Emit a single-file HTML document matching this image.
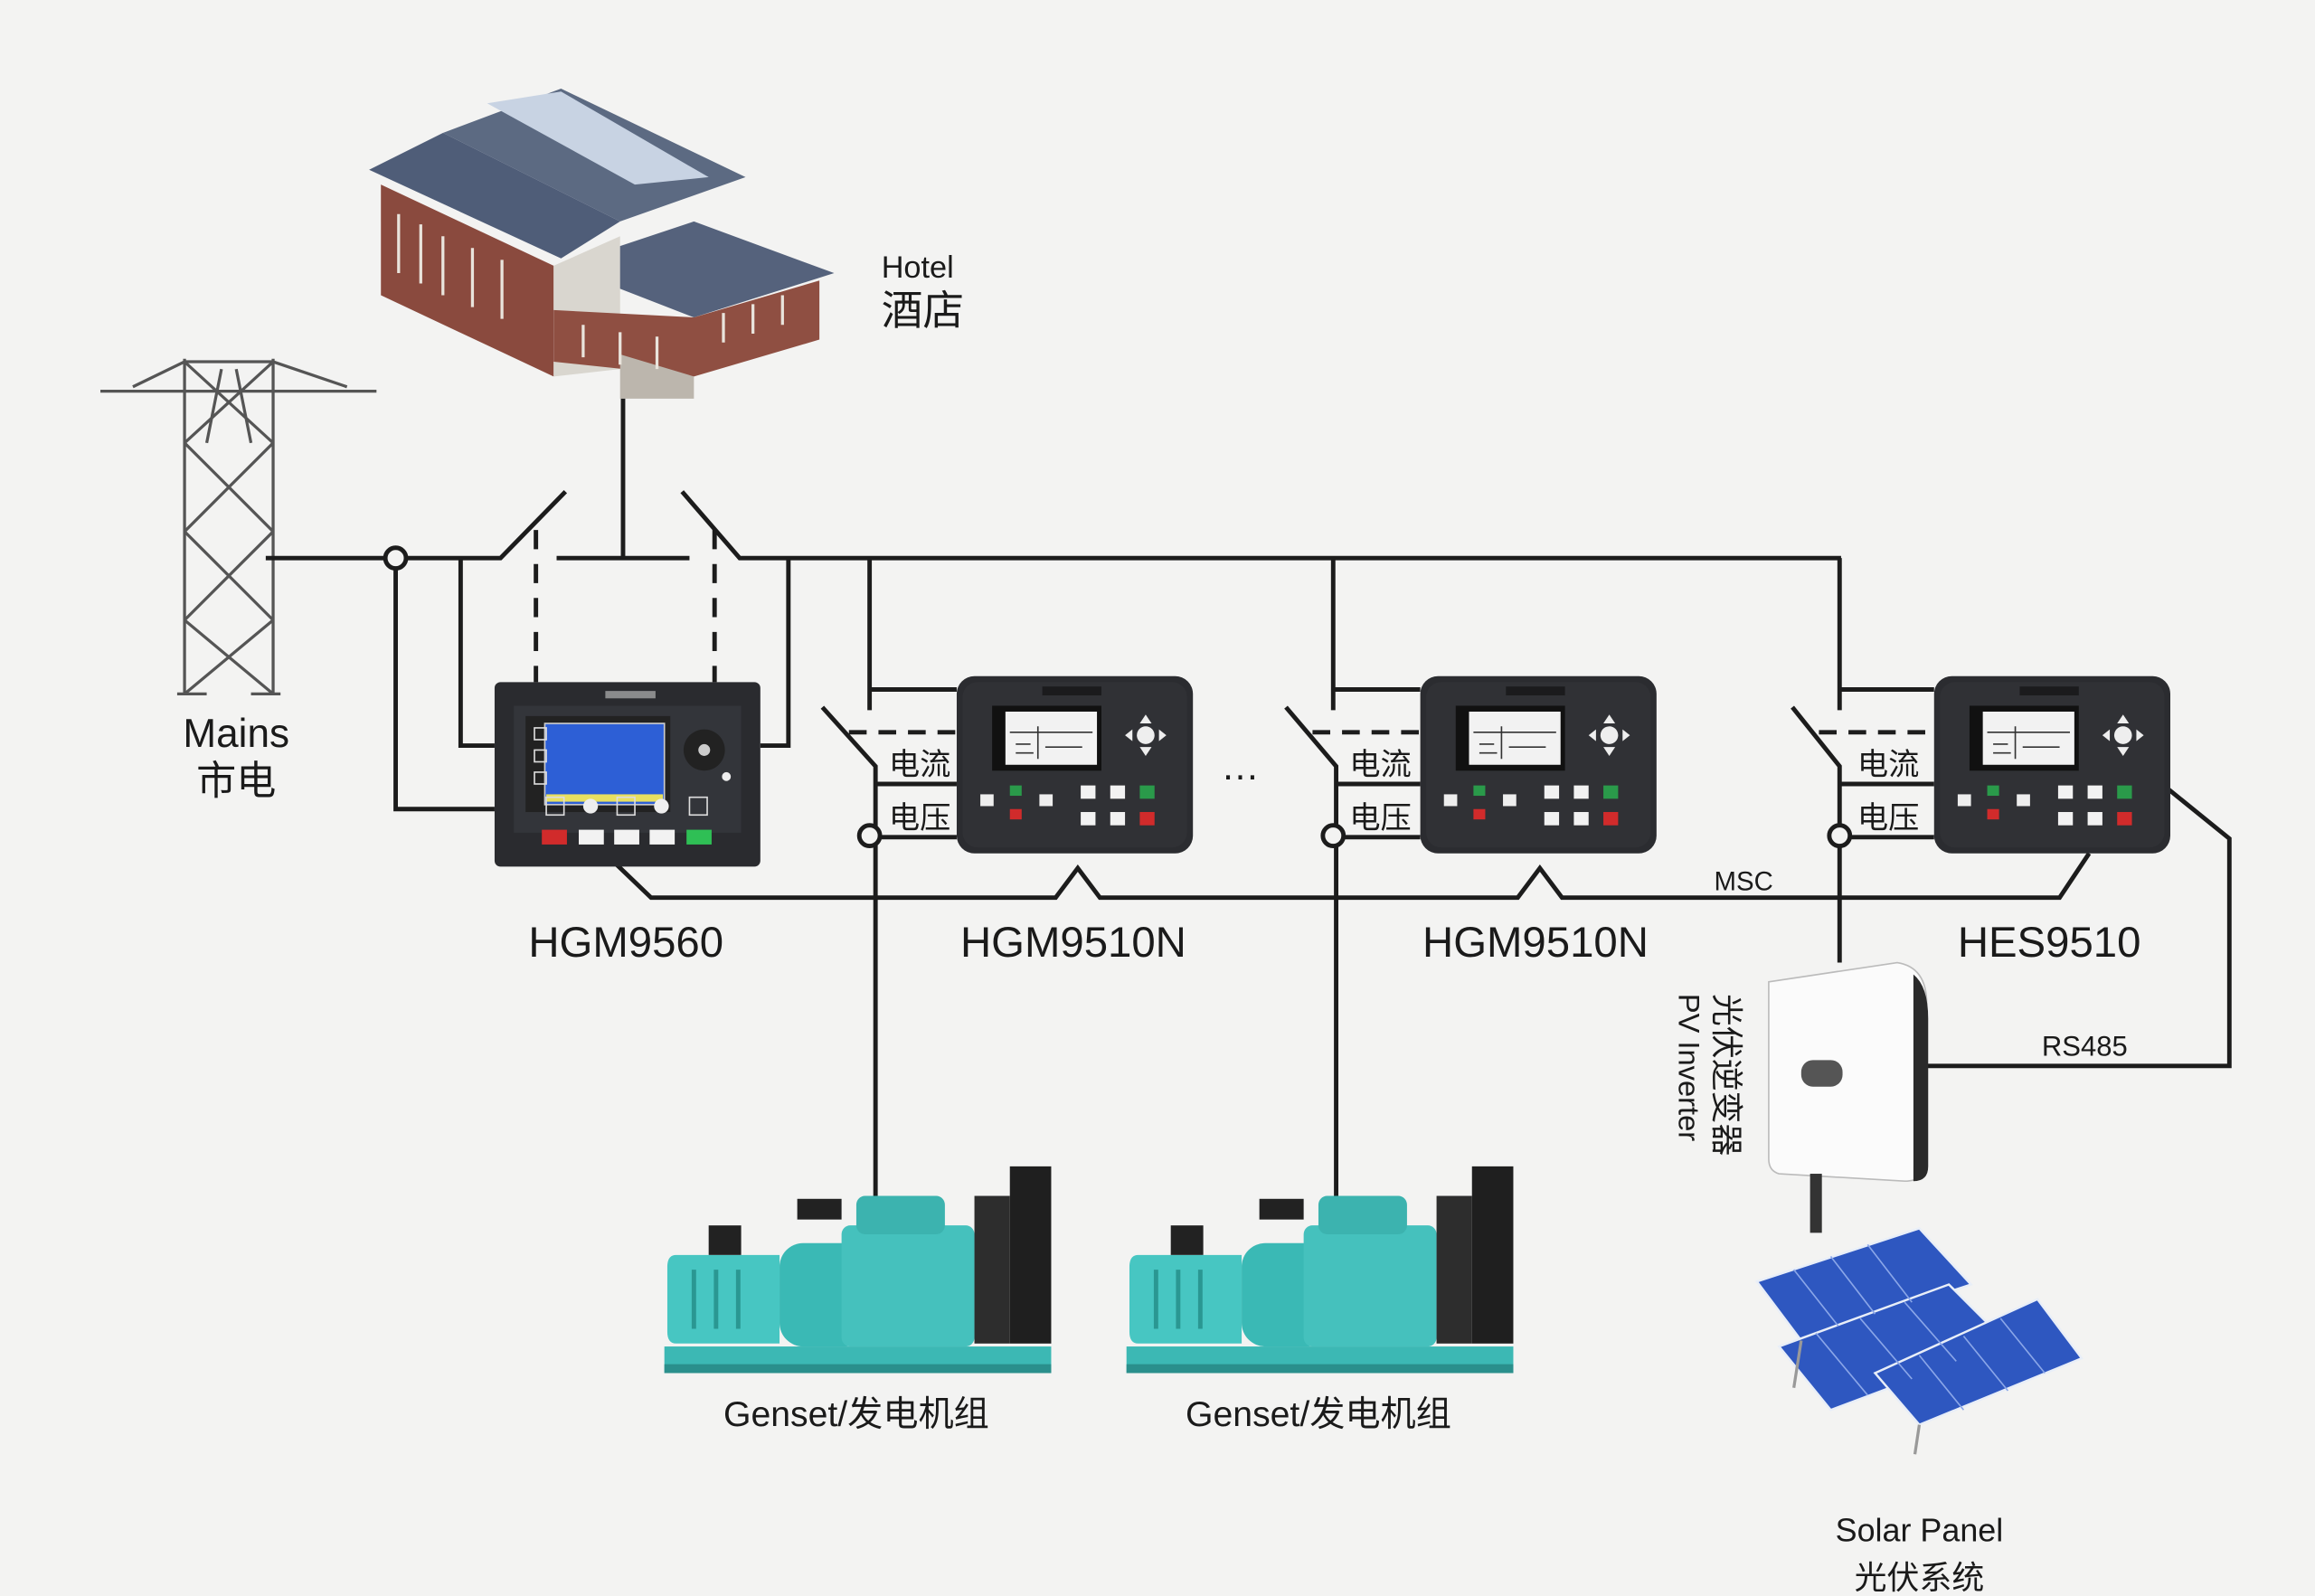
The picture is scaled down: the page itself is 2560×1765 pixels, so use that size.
<!DOCTYPE html>
<html><head><meta charset="utf-8"><style>
html,body{margin:0;padding:0;background:#f3f3f2;}
svg{display:block}
text{font-family:"Liberation Sans","Noto Sans CJK SC",sans-serif;fill:#1a1a1a}
</style></head><body>
<svg width="2560" height="1765" viewBox="0 0 1568 1081" preserveAspectRatio="none" xmlns="http://www.w3.org/2000/svg">
<rect width="1568" height="1081" fill="#f3f3f2"/>
<defs>
<g id="dev">
 <rect x="0" y="0" width="160" height="120" rx="12" fill="#2b2c30"/>
 <rect x="4" y="4" width="152" height="112" rx="10" fill="#303135"/>
 <rect x="58" y="7" width="40" height="6" fill="#1b1b1d"/>
 <rect x="24" y="20" width="74" height="44" fill="#111"/>
 <rect x="33" y="24" width="62" height="36" fill="#f2f2f2"/>
 <path d="M36 38 H92 M55 34 V56 M40 46 h10 M60 48 h25 M40 52 h12" stroke="#333" stroke-width="1"/>
 <circle cx="128" cy="40" r="6" fill="#eee"/><path d="M128 26 l4 6 h-8z M128 54 l4 -6 h-8z M114 40 l5 -4 v8z M142 40 l-5 -4 v8z" fill="#eee"/>
 <rect x="16" y="80" width="9" height="8" fill="#eee"/><rect x="36" y="74" width="8" height="7" fill="#2a9a4a"/><rect x="36" y="90" width="8" height="7" fill="#d12b2b"/><rect x="56" y="80" width="9" height="8" fill="#eee"/>
 <rect x="84" y="74" width="10" height="9" fill="#f2f2f2"/><rect x="104" y="74" width="10" height="9" fill="#f2f2f2"/><rect x="124" y="74" width="10" height="9" fill="#2a9a4a"/>
 <rect x="84" y="92" width="10" height="9" fill="#f2f2f2"/><rect x="104" y="92" width="10" height="9" fill="#f2f2f2"/><rect x="124" y="92" width="10" height="9" fill="#d12b2b"/>
</g>
<g id="gen">
 <rect x="0" y="122" width="262" height="18" fill="#3cb8b4"/>
 <rect x="0" y="134" width="262" height="6" fill="#2a8f8c"/>
 <path d="M8 60 q-6 0 -6 8 v44 q0 8 6 8 h70 v-60z" fill="#47c6c2"/>
 <rect x="30" y="40" width="22" height="20" fill="#222"/>
 <rect x="78" y="52" width="60" height="70" rx="16" fill="#3ab9b5"/>
 <rect x="90" y="22" width="30" height="14" fill="#222"/>
 <rect x="120" y="40" width="90" height="82" rx="6" fill="#45c1bd"/>
 <rect x="130" y="20" width="60" height="26" rx="6" fill="#3cb3af"/>
 <rect x="210" y="20" width="24" height="100" fill="#2d2d2d"/>
 <rect x="234" y="0" width="28" height="120" fill="#1f1f1f"/>
 <path d="M20 70 v40 M35 70 v40 M50 70 v40" stroke="#2a9792" stroke-width="3"/>
</g>
</defs>

<!-- Tower -->
<g stroke="#555" stroke-width="2" fill="none">
 <path d="M68 265 H255 M90 262 L125 245 H185 L235 262"/>
 <path d="M125 243 V470 M185 243 V470 M125 245 L185 300 M185 245 L125 300 M125 300 L185 360 M185 300 L125 360 M125 360 L185 420 M185 360 L125 420 M125 420 L185 470 M185 420 L125 470"/>
 <path d="M140 300 L150 250 M170 300 L160 250 M120 470 h20 M170 470 h20"/>
</g>
<text x="160" y="506" font-size="27" text-anchor="middle">Mains</text>
<text x="160" y="538" font-size="27" text-anchor="middle">市电</text>

<!-- Hotel -->
<polygon points="300,90 380,60 505,120 420,150" fill="#5c6a82"/>
<polygon points="330,70 380,62 480,120 430,125" fill="#c8d3e3"/>
<polygon points="250,115 300,90 420,150 380,175" fill="#4f5d78"/>
<polygon points="380,180 470,150 565,185 470,215" fill="#55627c"/>
<polygon points="258,125 375,180 375,255 258,200" fill="#8a4a3e"/>
<polygon points="375,180 420,160 420,250 375,255" fill="#d9d6cf"/>
<polygon points="375,210 470,215 555,190 555,230 470,255 375,245" fill="#8f4f42"/>
<polygon points="420,240 470,255 470,270 420,270" fill="#bcb6ad"/>
<g stroke="#e9e4dc" stroke-width="2"><path d="M270 145 v40 M285 152 v40 M300 160 v40 M320 168 v40 M340 176 v40 M395 220 v22 M420 225 v22 M445 228 v22 M490 232 v-20 M510 226 v-20 M530 220 v-20"/></g>
<text x="597" y="188" font-size="21">Hotel</text>
<text x="597" y="220" font-size="28">酒店</text>

<!-- Lines -->
<g stroke="#1c1c1c" stroke-width="3" fill="none">
 <path d="M180 378 H339 L383 333"/>
 <path d="M377 378 H467"/>
 <path d="M422 270 V378"/>
 <path d="M462 333 L501 378 H1247"/>
 <path d="M268 378 V548 H335"/>
 <path d="M312 378 V505 H335"/>
 <path d="M534 378 V505 H515"/>
 <path d="M363 359 V462 M484 359 V462" stroke-dasharray="13 10"/>
 <!-- gen 1 -->
 <path d="M589 378 V481 M589 467 H648"/>
 <path d="M557 479 L593 519 V815"/>
 <path d="M593 531 H648 M593 567 H648"/>
 <path d="M575 496 H648" stroke-dasharray="12 8"/>
 <!-- gen 2 -->
 <path d="M903 378 V481 M903 467 H962"/>
 <path d="M871 479 L905 519 V815"/>
 <path d="M905 531 H962 M905 567 H962"/>
 <path d="M889 496 H962" stroke-dasharray="12 8"/>
 <!-- HES -->
 <path d="M1246 378 V481 M1246 467 H1310"/>
 <path d="M1214 479 L1246 519 V652"/>
 <path d="M1246 531 H1310 M1246 567 H1310"/>
 <path d="M1232 496 H1310" stroke-dasharray="12 8"/>
 <!-- MSC -->
 <path d="M417 585 L441 608 H715 L730 588 L745 608 H1028 L1043 588 L1058 608 H1395 L1415 578"/>
 <!-- RS485 -->
 <path d="M1468 534 L1510 568 V722 H1305"/>
</g>
<g fill="#f3f3f2" stroke="#1c1c1c" stroke-width="3">
 <circle cx="268" cy="378" r="7"/><circle cx="589" cy="566" r="7"/><circle cx="903" cy="566" r="7"/><circle cx="1246" cy="566" r="7"/>
</g>
<text x="623" y="525" font-size="21" text-anchor="middle">电流</text>
<text x="623" y="561" font-size="21" text-anchor="middle">电压</text>
<text x="935" y="525" font-size="21" text-anchor="middle">电流</text>
<text x="935" y="561" font-size="21" text-anchor="middle">电压</text>
<text x="1279" y="525" font-size="21" text-anchor="middle">电流</text>
<text x="1279" y="561" font-size="21" text-anchor="middle">电压</text>
<text x="840" y="528" font-size="26" text-anchor="middle">…</text>
<text x="1181" y="603" font-size="18" text-anchor="middle">MSC</text>
<text x="1412" y="715" font-size="19" text-anchor="middle">RS485</text>

<!-- HGM9560 -->
<rect x="335" y="462" width="180" height="125" rx="4" fill="#2a2b2f"/>
<rect x="348" y="478" width="154" height="86" fill="#33353a"/>
<rect x="356" y="485" width="98" height="65" fill="#222"/>
<rect x="369" y="490" width="81" height="55" fill="#2d5fd6" stroke="#ccc" stroke-width="1"/>
<rect x="370" y="538" width="79" height="5" fill="#e8e060"/>
<rect x="362" y="493" width="8" height="8" fill="none" stroke="#ddd"/><rect x="362" y="508" width="8" height="8" fill="none" stroke="#ddd"/><rect x="362" y="523" width="8" height="8" fill="none" stroke="#ddd"/>
<circle cx="477" cy="508" r="14" fill="#222"/><circle cx="477" cy="508" r="4" fill="#ccc"/><circle cx="492" cy="526" r="3" fill="#eee"/>
<circle cx="400" cy="546" r="5" fill="#eee"/><circle cx="448" cy="546" r="5" fill="#eee"/>
<rect x="370" y="540" width="12" height="12" fill="none" stroke="#ddd"/><rect x="418" y="540" width="12" height="12" fill="none" stroke="#ddd"/><rect x="467" y="540" width="12" height="12" fill="none" stroke="#ddd"/>
<rect x="367" y="562" width="17" height="10" fill="#d12b2b"/><rect x="392" y="562" width="17" height="10" fill="#f2f2f2"/><rect x="416" y="562" width="17" height="10" fill="#f2f2f2"/><rect x="440" y="562" width="17" height="10" fill="#f2f2f2"/><rect x="465" y="562" width="17" height="10" fill="#2fbf55"/>
<rect x="410" y="468" width="34" height="5" fill="#ccc" opacity=".6"/>

<use href="#dev" x="648" y="458"/>
<use href="#dev" x="962" y="458"/>
<use href="#dev" x="1310" y="458"/>

<text x="424" y="648" font-size="29" text-anchor="middle">HGM9560</text>
<text x="727" y="648" font-size="29" text-anchor="middle">HGM9510N</text>
<text x="1040" y="648" font-size="29" text-anchor="middle">HGM9510N</text>
<text x="1388" y="648" font-size="29" text-anchor="middle">HES9510</text>

<!-- Gensets -->
<use href="#gen" x="450" y="790"/>
<use href="#gen" x="763" y="790"/>
<text x="580" y="966" font-size="24" text-anchor="middle">Genset/发电机组</text>
<text x="893" y="966" font-size="24" text-anchor="middle">Genset/发电机组</text>

<!-- Inverter -->
<path d="M1198 665 L1285 652 Q1305 655 1305 680 V785 Q1305 800 1290 800 L1205 795 Q1198 793 1198 785 Z" fill="#fbfbfb" stroke="#bbb" stroke-width="1"/>
<path d="M1296 660 Q1306 668 1306 690 V790 Q1306 800 1296 800 Z" fill="#2a2a2a"/>
<rect x="1220" y="718" width="28" height="18" rx="8" fill="#555"/>
<rect x="1226" y="795" width="8" height="40" fill="#333"/>
<text transform="translate(1162,673) rotate(90)" font-size="22">光伏逆变器</text>
<text transform="translate(1137,673) rotate(90)" font-size="20">PV Inverter</text>

<!-- Solar panels -->
<g fill="#2e57c0" stroke="#e8eef8" stroke-width="1.5">
 <polygon points="1190,868 1300,832 1335,870 1220,908"/>
 <polygon points="1205,912 1320,870 1360,910 1240,955"/>
 <polygon points="1270,930 1380,880 1410,920 1300,965"/>
</g>
<g stroke="#8aa6e8" stroke-width="1"><path d="M1215 860 L1245 898 M1240 851 L1270 890 M1265 843 L1295 882 M1230 903 L1265 945 M1260 893 L1295 934 M1290 882 L1325 922 M1300 918 L1330 955 M1330 905 L1360 942 M1355 893 L1385 930"/></g>
<path d="M1220 908 L1215 940 M1300 965 L1297 985" stroke="#999" stroke-width="2"/>
<text x="1300" y="1044" font-size="22" text-anchor="middle">Solar Panel</text>
<text x="1300" y="1076" font-size="22" text-anchor="middle">光伏系统</text>
</svg>
</body></html>
